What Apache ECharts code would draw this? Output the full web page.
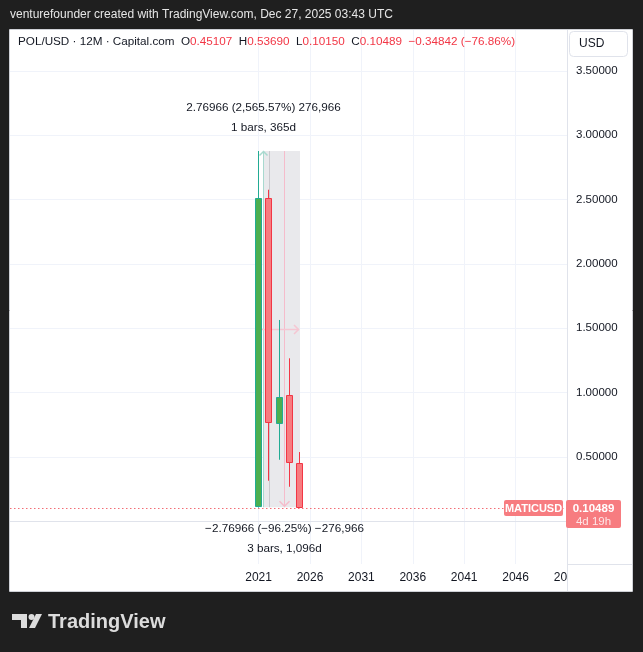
<!DOCTYPE html>
<html><head><meta charset="utf-8">
<script src="https://cdn.jsdelivr.net/npm/echarts@6/dist/echarts.min.js"></script>
<style>html,body{margin:0;padding:0;background:#1f1f1f}#c{width:643px;height:652px}</style>
</head><body><div id="c"></div>
<script>
// ---- data ----
const years  = [2021, 2022, 2023, 2024, 2025];
const opens  = [0.110, 2.515, 0.755, 0.978, 0.45107];
const highs  = [2.878, 2.577, 1.564, 1.266, 0.53690];
const lows   = [0.105, 0.314, 0.477, 0.267, 0.10150];
const closes = [2.515, 0.760, 0.963, 0.45331, 0.10489];
const yGridValues  = [0, 0.5, 1, 1.5, 2, 2.5, 3, 3.5];
const yLabelValues = [0.5, 1, 1.5, 2, 2.5, 3, 3.5];
const xTickYears   = [2021, 2026, 2031, 2036, 2041, 2046, 2051];
const lastClose = 0.10489;
const symbolName = 'MATICUSD';
const countdown = '4d 19h';
const rangeLow = 0.10795, rangeHigh = 2.8776;
const upMeasureYear = 2021.46;
const downRectYears = [2021.46, 2025.03];
const downArrowYear = 2023.5;
const guideYear = 2022;
const upLabelLines = ['2.76966 (2,565.57%) 276,966', '1 bars, 365d'];
const downLabelLines = ['\u22122.76966 (\u221296.25%) \u2212276,966', '3 bars, 1,096d'];
const headerText = 'venturefounder created with TradingView.com, Dec 27, 2025 03:43 UTC';
const titleName = 'POL/USD \u00b7 12M \u00b7 Capital.com';
const titleChange = '\u22120.34842 (\u221276.86%)';

const X_MIN = 1996.82, X_MAX = 2051;
const Y_MIN = -0.3336, Y_MAX = 3.819;
const FONT = '"Liberation Sans", Arial, sans-serif';
const TXT = '#131722';
const CANDLE_W = 7;

const chart = echarts.init(document.getElementById('c'), null, {renderer: 'canvas'});

const candleData = years.map((y, i) => [y, opens[i], closes[i], lows[i], highs[i]]);

function renderCandle(params, api) {
  const x = api.value(0), o = api.value(1), c = api.value(2), l = api.value(3), h = api.value(4);
  const pO = api.coord([x, o]), pC = api.coord([x, c]), pL = api.coord([x, l]), pH = api.coord([x, h]);
  const w = CANDLE_W;
  const up = c >= o;
  const border = up ? '#22ab94' : '#f23645';
  const fill = up ? '#4caf50' : '#f77c80';
  const left = Math.round(pO[0] - w / 2);
  const top = Math.round(Math.min(pO[1], pC[1]));
  const bot = Math.round(Math.max(pO[1], pC[1]));
  const wx = left + Math.floor(w / 2) + 0.5;
  return {type: 'group', children: [
    {type: 'line', shape: {x1: wx, y1: pH[1], x2: wx, y2: pL[1]}, style: {stroke: border, lineWidth: 1}},
    {type: 'rect', shape: {x: left + 0.5, y: top + 0.5, width: w - 1, height: Math.max(bot - top - 1, 1)},
     style: {fill: fill, stroke: border, lineWidth: 1}}
  ]};
}

function renderMeasure(params, api) {
  const pUpTop = api.coord([upMeasureYear, rangeHigh]);
  const pUpBot = api.coord([upMeasureYear, rangeLow]);
  const r0 = api.coord([downRectYears[0], rangeHigh]);
  const r1 = api.coord([downRectYears[1], rangeLow]);
  const aTop = api.coord([downArrowYear, rangeHigh]);
  const aBot = api.coord([downArrowYear, rangeLow]);
  const mid = api.coord([downRectYears[0], (rangeHigh + rangeLow) / 2]);
  const g1 = api.coord([guideYear, rangeHigh]);
  const g2 = api.coord([guideYear, rangeLow]);
  const ux = Math.round(pUpTop[0]) + 0.5;
  const ax = Math.round(aTop[0]) + 0.5;
  const my = Math.round(mid[1]) + 0.5;
  const rx1 = Math.round(r1[0]);
  const txtStyle = (t, x, y) => ({type: 'text', x: x, y: y, style: {text: t, fill: TXT, font: '11.7px ' + FONT, align: 'center', verticalAlign: 'middle'}});
  return {type: 'group', children: [
    {type: 'rect', shape: {x: Math.round(r0[0]), y: r0[1], width: rx1 - Math.round(r0[0]), height: r1[1] - r0[1]}, style: {fill: '#e9e9ec'}},
    {type: 'line', shape: {x1: Math.round(g1[0]) + 0.5, y1: g1[1], x2: Math.round(g1[0]) + 0.5, y2: g2[1]}, style: {stroke: '#c9c9ce', lineWidth: 1}},
    {type: 'line', shape: {x1: ux, y1: pUpTop[1], x2: ux, y2: pUpBot[1]}, style: {stroke: '#a8d9cf', lineWidth: 1}},
    {type: 'polyline', shape: {points: [[ux - 4, pUpTop[1] + 4.5], [ux, pUpTop[1] + 0.5], [ux + 4, pUpTop[1] + 4.5]]}, style: {stroke: '#a8d9cf', lineWidth: 1.5, fill: null}},
    {type: 'line', shape: {x1: ax, y1: aTop[1], x2: ax, y2: aBot[1]}, style: {stroke: '#f5bccb', lineWidth: 1}},
    {type: 'polyline', shape: {points: [[ax - 5, aBot[1] - 6], [ax, aBot[1] - 1], [ax + 5, aBot[1] - 6]]}, style: {stroke: '#f5bccb', lineWidth: 1.5, fill: null}},
    {type: 'line', shape: {x1: Math.round(r0[0]) - 1, y1: my, x2: rx1 - 1, y2: my}, style: {stroke: '#f5c6d2', lineWidth: 1.5}},
    {type: 'polyline', shape: {points: [[rx1 - 6, my - 4.5], [rx1 - 1.5, my], [rx1 - 6, my + 4.5]]}, style: {stroke: '#f5c6d2', lineWidth: 1.5, fill: null}},
    txtStyle(upLabelLines[0], ux, pUpTop[1] - 43),
    txtStyle(upLabelLines[1], ux, pUpTop[1] - 23),
    txtStyle(downLabelLines[0], ax, aBot[1] + 21.5),
    txtStyle(downLabelLines[1], ax, aBot[1] + 41.5)
  ]};
}

function renderLast(params, api) {
  const v = api.value(0);
  const pL = api.coord([X_MIN, v]);
  const pR = api.coord([X_MAX, v]);
  const y = Math.round(pL[1]) + 0.5;
  const right = Math.round(pR[0]);
  return {type: 'group', children: [
    {type: 'line', shape: {x1: pL[0], y1: y, x2: right, y2: y}, style: {stroke: '#f26d75', lineWidth: 1, lineDash: [1.5, 2.5]}},
    {type: 'rect', shape: {x: right - 63, y: y - 8.5, width: 59, height: 16, r: 2}, style: {fill: '#f77c80'}},
    {type: 'text', x: right - 33.5, y: y, style: {text: symbolName, fill: '#ffffff', font: 'bold 11px ' + FONT, align: 'center', verticalAlign: 'middle'}},
    {type: 'rect', shape: {x: right - 1, y: y - 8.5, width: 55, height: 28, r: 2}, style: {fill: '#f77c80'}},
    {type: 'text', x: right + 26.5, y: y, style: {text: v.toFixed(5), fill: '#ffffff', font: 'bold 11.5px ' + FONT, align: 'center', verticalAlign: 'middle'}},
    {type: 'text', x: right + 26.5, y: y + 13, style: {text: countdown, fill: 'rgba(255,255,255,0.8)', font: '11.5px ' + FONT, align: 'center', verticalAlign: 'middle'}}
  ]};
}

const DARK = '#1f1f1f';
const option = {
  backgroundColor: '#ffffff',
  animation: false,
  grid: {left: 10, right: 76, top: 30, bottom: 88},
  xAxis: {
    type: 'value', min: X_MIN, max: X_MAX,
    axisLine: {show: true, lineStyle: {color: '#e0e3eb'}},
    axisTick: {show: false, customValues: xTickYears},
    axisLabel: {
      customValues: xTickYears, color: TXT, fontSize: 12, fontFamily: FONT, margin: 8,
      formatter: v => v === 2051 ? '{c|20}' : '{n|' + v + '}',
      rich: {n: {fontSize: 12, color: TXT, fontFamily: FONT}, c: {fontSize: 12, color: TXT, fontFamily: FONT, padding: [0, 13, 0, 0]}}
    },
    splitLine: {show: true, lineStyle: {color: '#f0f3fa'}}
  },
  yAxis: {
    type: 'value', position: 'right', min: Y_MIN, max: Y_MAX,
    axisLine: {show: true, lineStyle: {color: '#e0e3eb'}},
    axisTick: {show: false, customValues: yGridValues},
    axisLabel: {customValues: yLabelValues, color: TXT, fontSize: 11.5, fontFamily: FONT, margin: 9, formatter: v => v.toFixed(5)},
    splitLine: {show: true, lineStyle: {color: '#f0f3fa'}}
  },
  series: [
    {type: 'custom', name: 'measure', renderItem: renderMeasure, data: [[0]], z: 1, silent: true, clip: false},
    {type: 'custom', name: 'candles', renderItem: renderCandle, data: candleData, z: 3, encode: {x: 0, y: [1, 2, 3, 4]}},
    {type: 'custom', name: 'last', renderItem: renderLast, data: [[lastClose]], z: 5, clip: false, encode: {y: 0}}
  ],
  graphic: {elements: [
    {type: 'rect', shape: {x: 0, y: 0, width: 643, height: 30}, style: {fill: DARK}, z: 100},
    {type: 'rect', shape: {x: 0, y: 0, width: 10, height: 652}, style: {fill: DARK}, z: 100},
    {type: 'rect', shape: {x: 632, y: 0, width: 11, height: 652}, style: {fill: DARK}, z: 100},
    {type: 'rect', shape: {x: 0, y: 591, width: 643, height: 61}, style: {fill: DARK}, z: 100},
    {type: 'rect', shape: {x: 9.5, y: 29.5, width: 623, height: 562}, style: {fill: null, stroke: '#cfd1d6', lineWidth: 1}, z: 100},
    {type: 'line', shape: {x1: 567, y1: 564.5, x2: 632, y2: 564.5}, style: {stroke: '#e0e3eb', lineWidth: 1}, z: 100},
    {type: 'line', shape: {x1: 567.5, y1: 564, x2: 567.5, y2: 591}, style: {stroke: '#e0e3eb', lineWidth: 1}, z: 100},
    {type: 'text', x: 10, y: 15, style: {text: headerText, fill: '#e6e6e6', font: '12px ' + FONT, verticalAlign: 'middle'}, z: 101},
    {type: 'text', x: 18, y: 42, z: 101, style: {
      text: '{n|' + titleName + '}  {n|O}{r|' + opens[4].toFixed(5) + '}  {n|H}{r|' + highs[4].toFixed(5) + '}  {n|L}{r|' + lows[4].toFixed(5) + '}  {n|C}{r|' + closes[4].toFixed(5) + '}  {r|' + titleChange + '}',
      verticalAlign: 'middle', font: '11.7px ' + FONT,
      rich: {n: {fill: TXT, font: '11.7px ' + FONT}, r: {fill: '#f23645', font: '11.7px ' + FONT}}
    }},
    {type: 'rect', shape: {x: 569.5, y: 31.5, width: 58, height: 25, r: 4}, style: {fill: '#ffffff', stroke: '#e0e3eb', lineWidth: 1}, z: 101},
    {type: 'text', x: 579, y: 44, style: {text: 'USD', fill: TXT, font: '12px ' + FONT, verticalAlign: 'middle'}, z: 102},
    {type: 'polygon', shape: {points: [[12, 614], [27, 614], [27, 628], [21, 628], [21, 620], [12, 620]]}, style: {fill: '#dcdcdc'}, z: 101},
    {type: 'circle', shape: {cx: 31.5, cy: 617, r: 3}, style: {fill: '#dcdcdc'}, z: 101},
    {type: 'polygon', shape: {points: [[36, 614], [42, 614], [35, 628], [29, 628]]}, style: {fill: '#dcdcdc'}, z: 101},
    {type: 'text', x: 48, y: 622, style: {text: 'TradingView', fill: '#dcdcdc', font: 'bold 20px ' + FONT, verticalAlign: 'middle'}, z: 101}
  ]}
};
chart.setOption(option);
</script></body></html>
